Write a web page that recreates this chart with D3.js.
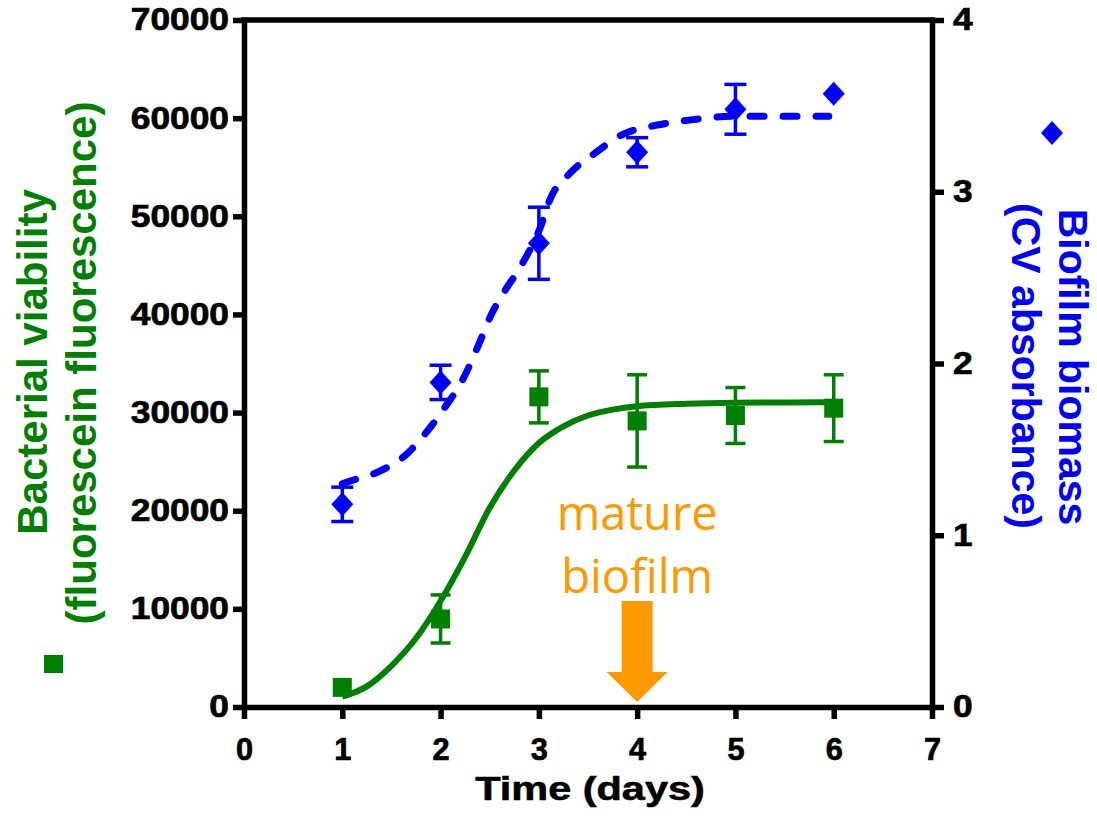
<!DOCTYPE html>
<html>
<head>
<meta charset="utf-8">
<script src="https://cdn.jsdelivr.net/npm/d3@7"></script>
<style>
  body { margin: 0; background: #fff; }
  svg { display: block; }
</style>
</head>
<body>
<svg id="chart"></svg>
<script>
// data
const days = [1, 2, 3, 4, 5, 6];
const viabilityMean = [2000, 8970, 31600, 29150, 29700, 30450];
const viabilityErr = [0, 2450, 2650, 4700, 2850, 3400];
const biomassMean = [1.18, 1.89, 2.70, 3.23, 3.48, 3.57];
const biomassErr = [0.10, 0.10, 0.21, 0.085, 0.145, 0];

// fitted curves
const viabilityCurve = [
  [1.0, 1050], [1.25, 2100], [1.5, 4200], [1.75, 7000], [2.0, 10800],
  [2.25, 15300], [2.5, 20300], [2.75, 24100], [3.0, 26900], [3.25, 28600],
  [3.5, 29700], [3.75, 30300], [4.0, 30650], [4.5, 30900], [5.0, 31000], [6.0, 31050]
];
const biomassCurve = [
  [1.0, 1.30], [1.05, 1.31], [1.37, 1.37], [1.65, 1.47], [1.87, 1.61], [2.05, 1.75],
  [2.22, 1.90], [2.38, 2.10], [2.52, 2.29], [2.64, 2.41], [2.83, 2.58], [3.02, 2.80],
  [3.11, 2.95], [3.32, 3.11], [3.56, 3.22], [3.84, 3.33], [4.22, 3.39], [4.57, 3.42],
  [4.99, 3.44], [5.89, 3.44], [5.95, 3.44]
];

const xTicks = [0, 1, 2, 3, 4, 5, 6, 7];
const leftTicks = [0, 10000, 20000, 30000, 40000, 50000, 60000, 70000];
const rightTicks = [0, 1, 2, 3, 4];

// annotation arrow (day, and left-axis values)
const arrowDay = 4;
const arrowTop = 10800, arrowHead = 3570, arrowTip = 500;

const green = '#008000', blue = '#0000ff', orange = '#ff9900';
const font = '"Liberation Sans", Arial, Helvetica, sans-serif';

const svg = d3.select('#chart')
    .attr('width', 1097)
    .attr('height', 823);

const x = d3.scaleLinear().domain([0, 7]).range([244, 932]);
const yLeft = d3.scaleLinear().domain([0, 70000]).range([707, 20]);
const yRight = d3.scaleLinear().domain([0, 4]).range([707, 20]);

function styleAxis(g, sx) {
    g.attr('font-size', null).attr('font-family', null);
    g.select('.domain').attr('stroke', '#000').attr('stroke-width', 5.5).attr('stroke-linecap', 'square');
    g.selectAll('.tick line').attr('stroke', '#000').attr('stroke-width', 5.5);
    g.selectAll('.tick text')
        .attr('fill', '#000')
        .attr('stroke', '#000')
        .attr('stroke-width', 0.7)
        .style('font-family', font)
        .style('font-weight', 'bold')
        .style('font-size', '31px')
        .attr('transform', `scale(${sx},1)`);
}

// top frame
svg.append('line')
    .attr('x1', x(0)).attr('x2', x(7))
    .attr('y1', yLeft(70000)).attr('y2', yLeft(70000))
    .attr('stroke', '#000').attr('stroke-width', 5.5).attr('stroke-linecap', 'square');

const gx = svg.append('g')
    .attr('transform', `translate(0,${yLeft(0)})`)
    .call(d3.axisBottom(x).tickValues(xTicks).tickFormat(d3.format('d')).tickSize(12).tickSizeOuter(0).tickPadding(18));
styleAxis(gx, 0.96);
gx.selectAll('.tick text').style('font-size', '32px');

const sy = 1.14;
const gl = svg.append('g')
    .attr('transform', `translate(${x(0)},0)`)
    .call(d3.axisLeft(yLeft).tickValues(leftTicks).tickFormat(d3.format('d')).tickSize(11).tickSizeOuter(0));
styleAxis(gl, sy);
gl.selectAll('.tick text').attr('x', -15 / sy);

const gr = svg.append('g')
    .attr('transform', `translate(${x(7)},0)`)
    .call(d3.axisRight(yRight).tickValues(rightTicks).tickFormat(d3.format('d')).tickSize(12).tickSizeOuter(0));
styleAxis(gr, sy);
gr.selectAll('.tick text').attr('x', 21 / sy);

// curves
const lineL = d3.line().x(d => x(d[0])).y(d => yLeft(d[1])).curve(d3.curveMonotoneX);
const lineR = d3.line().x(d => x(d[0])).y(d => yRight(d[1])).curve(d3.curveMonotoneX);

svg.append('path')
    .datum(biomassCurve)
    .attr('d', lineR)
    .attr('fill', 'none')
    .attr('stroke', blue)
    .attr('stroke-width', 7)
    .attr('stroke-linecap', 'round')
    .attr('stroke-dasharray', '14 19');

svg.append('path')
    .datum(viabilityCurve)
    .attr('d', lineL)
    .attr('fill', 'none')
    .attr('stroke', green)
    .attr('stroke-width', 6);

// error bars
function errorBars(means, errs, y, color, capW) {
    const g = svg.append('g').attr('stroke', color).attr('stroke-width', 3.5);
    days.forEach((d, i) => {
        if (!errs[i]) return;
        const cx = x(d), lo = y(means[i] - errs[i]), hi = y(means[i] + errs[i]);
        g.append('line').attr('x1', cx).attr('x2', cx).attr('y1', lo).attr('y2', hi);
        g.append('line').attr('x1', cx - capW / 2).attr('x2', cx + capW / 2).attr('y1', lo).attr('y2', lo);
        g.append('line').attr('x1', cx - capW / 2).attr('x2', cx + capW / 2).attr('y1', hi).attr('y2', hi);
    });
}
errorBars(viabilityMean, viabilityErr, yLeft, green, 20);
errorBars(biomassMean, biomassErr, yRight, blue, 22);

// markers
const sq = 19;
svg.selectAll('.sq')
    .data(days)
    .enter()
    .append('rect')
    .attr('class', 'sq')
    .attr('x', d => x(d) - sq / 2)
    .attr('y', (d, i) => yLeft(viabilityMean[i]) - sq / 2)
    .attr('width', sq)
    .attr('height', sq)
    .attr('fill', green);

const diamond = (cx, cy) => `M${cx},${cy - 12}L${cx + 11},${cy}L${cx},${cy + 12}L${cx - 11},${cy}Z`;
svg.selectAll('.dia')
    .data(days)
    .enter()
    .append('path')
    .attr('class', 'dia')
    .attr('d', (d, i) => diamond(x(d), yRight(biomassMean[i])))
    .attr('fill', blue);

// arrow + label
const ax = x(arrowDay);
svg.append('path')
    .attr('d', `M${ax - 15.5},${yLeft(arrowTop)}H${ax + 15.5}V${yLeft(arrowHead)}H${ax + 30.5}` +
               `L${ax},${yLeft(arrowTip)}L${ax - 30.5},${yLeft(arrowHead)}H${ax - 15.5}Z`)
    .attr('fill', orange);

svg.selectAll('.note')
    .data(['mature', 'biofilm'])
    .enter()
    .append('text')
    .attr('x', ax)
    .attr('y', (d, i) => 529.5 + i * 63)
    .attr('text-anchor', 'middle')
    .attr('fill', orange)
    .style('font-family', '"Open Sans", "Noto Sans", sans-serif')
    .style('font-size', '47px')
    .text(d => d);

// axis titles
svg.append('text')
    .attr('transform', `translate(${(x(0) + x(7)) / 2 + 2},800) scale(1.22,1)`)
    .attr('text-anchor', 'middle')
    .attr('stroke', '#000').attr('stroke-width', 0.6)
    .style('font-family', font).style('font-weight', 'bold').style('font-size', '34px')
    .text('Time (days)');

const leftTitle = [['Bacterial viability', 47, 362], ['(fluorescein fluorescence)', 96, 363]];
leftTitle.forEach(([t, tx, ty]) => {
    svg.append('text')
        .attr('transform', `translate(${tx},${ty}) rotate(-90)`)
        .attr('text-anchor', 'middle')
        .attr('fill', green)
        .style('font-family', font).style('font-weight', 'bold').style('font-size', '42px')
        .text(t);
});

const rightTitle = [['Biofilm biomass', 1059, 367], ['(CV absorbance)', 1012, 366]];
rightTitle.forEach(([t, tx, ty]) => {
    svg.append('text')
        .attr('transform', `translate(${tx},${ty}) rotate(90)`)
        .attr('text-anchor', 'middle')
        .attr('fill', blue)
        .style('font-family', font).style('font-weight', 'bold').style('font-size', '41px')
        .text(t);
});

// legend symbols next to the titles
svg.append('rect')
    .attr('x', 44).attr('y', 655).attr('width', sq).attr('height', 18)
    .attr('fill', green);
svg.append('path')
    .attr('d', diamond(1052, 133))
    .attr('fill', blue);
</script>
</body>
</html>
